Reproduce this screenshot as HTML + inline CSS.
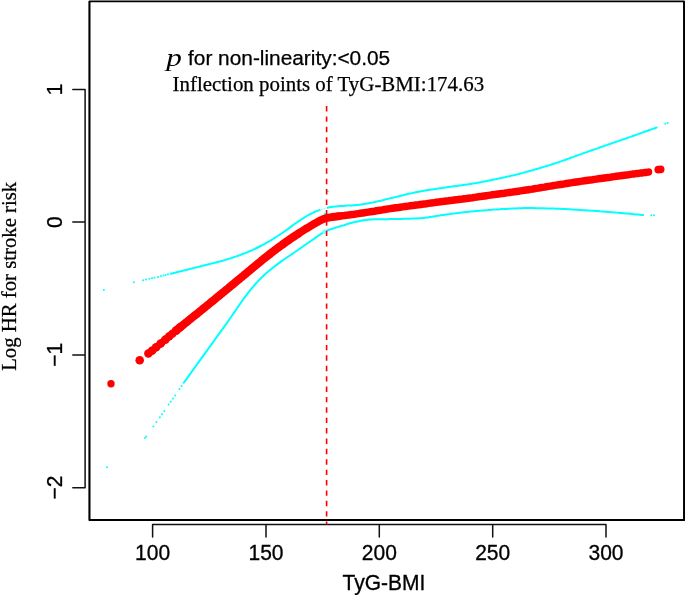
<!DOCTYPE html>
<html><head><meta charset="utf-8"><title>Chart</title>
<style>html,body{margin:0;padding:0;background:#fff;}body{width:685px;height:595px;overflow:hidden;position:relative;font-family:"Liberation Sans",sans-serif;}</style>
</head><body>
<svg width="685" height="595" viewBox="0 0 685 595" style="position:absolute;left:0;top:0;will-change:transform">
<rect x="0" y="0" width="685" height="595" fill="#fff"/>
<path d="M89.45,1.5V520H684.1V1.5" fill="none" stroke="#000" stroke-width="2.1" stroke-linejoin="round"/>
<path d="M89.45,1.4H684.1" fill="none" stroke="#000" stroke-width="1.75" stroke-linecap="round"/>
<path d="M72.8,89.4H85.1V487.7H72.8M72.8,222.1H85.1M72.8,354.9H85.1" fill="none" stroke="#111" stroke-width="1.5" stroke-linecap="round" stroke-linejoin="round"/>
<path d="M152.6,536.9V524.6H606V536.9M266,524.6V536.9M379.3,524.6V536.9M492.7,524.6V536.9" fill="none" stroke="#111" stroke-width="1.5" stroke-linecap="round" stroke-linejoin="round"/>
<path d="M170.7,273.8 L171.7,273.5 L172.7,273.3 L173.7,273.0 L174.7,272.8 L175.7,272.5 L176.7,272.3 L177.7,272.0 L178.7,271.8 L179.7,271.5 L180.7,271.3 L181.7,271.0 L182.7,270.8 L183.7,270.5 L184.7,270.3 L185.7,270.0 L186.7,269.8 L187.7,269.5 L188.7,269.2 L189.7,269.0 L190.7,268.7 L191.7,268.5 L192.7,268.2 L193.7,268.0 L194.7,267.7 L195.7,267.5 L196.7,267.2 L197.7,267.0 L198.7,266.7 L199.7,266.5 L200.7,266.2 L201.7,266.0 L202.7,265.7 L203.7,265.5 L204.7,265.2 L205.7,265.0 L206.7,264.8 L207.7,264.5 L208.7,264.3 L209.7,264.1 L210.7,263.8 L211.7,263.6 L212.7,263.3 L213.7,263.1 L214.7,262.8 L215.7,262.6 L216.7,262.3 L217.7,262.1 L218.7,261.8 L219.7,261.6 L220.7,261.3 L221.7,261.0 L222.7,260.7 L223.7,260.4 L224.7,260.1 L225.7,259.8 L226.7,259.5 L227.7,259.2 L228.7,258.9 L229.7,258.6 L230.7,258.3 L231.7,258.0 L232.7,257.6 L233.7,257.3 L234.7,256.9 L235.7,256.6 L236.7,256.2 L237.7,255.9 L238.7,255.5 L239.7,255.2 L240.7,254.8 L241.7,254.4 L242.7,254.0 L243.7,253.6 L244.7,253.3 L245.7,252.9 L246.7,252.5 L247.7,252.1 L248.7,251.6 L249.7,251.2 L250.7,250.8 L251.7,250.3 L252.7,249.9 L253.7,249.4 L254.7,249.0 L255.7,248.5 L256.7,248.0 L257.7,247.5 L258.7,247.0 L259.7,246.5 L260.7,246.0 L261.7,245.5 L262.7,244.9 L263.7,244.4 L264.7,243.9 L265.7,243.3 L266.7,242.7 L267.7,242.2 L268.7,241.6 L269.7,241.0 L270.7,240.4 L271.7,239.8 L272.7,239.2 L273.7,238.5 L274.7,237.9 L275.7,237.3 L276.7,236.6 L277.7,236.0 L278.7,235.3 L279.7,234.7 L280.7,234.0 L281.7,233.4 L282.7,232.7 L283.7,232.0 L284.7,231.3 L285.7,230.6 L286.7,229.9 L287.7,229.1 L288.7,228.4 L289.7,227.6 L290.7,226.9 L291.7,226.1 L292.7,225.4 L293.7,224.7 L294.7,223.9 L295.7,223.2 L296.7,222.5 L297.7,221.8 L298.7,221.2 L299.7,220.5 L300.7,219.9 L301.7,219.2 L302.7,218.6 L303.7,217.9 L304.7,217.3 L305.7,216.6 L306.7,216.0 L307.7,215.4 L308.7,214.9 L309.7,214.3 L310.7,213.8 L311.7,213.3 L312.7,212.8 L313.7,212.3 L314.7,211.9 L315.7,211.5 L316.7,211.1 L317.7,210.8 L318.7,210.4 L319.7,210.1" fill="none" stroke="#00ffff" stroke-width="2.0" stroke-linecap="round" stroke-linejoin="round"/>
<path d="M327.7,207.7 L328.7,207.5 L329.7,207.3 L330.7,207.1 L331.7,206.9 L332.7,206.8 L333.7,206.7 L334.7,206.6 L335.7,206.5 L336.7,206.4 L337.7,206.3 L338.7,206.2 L339.7,206.1 L340.7,206.1 L341.7,206.0 L342.7,205.9 L343.7,205.9 L344.7,205.8 L345.7,205.7 L346.7,205.6 L347.7,205.6 L348.7,205.5 L349.7,205.5 L350.7,205.4 L351.7,205.4 L352.7,205.3 L353.7,205.3 L354.7,205.2 L355.7,205.1 L356.7,205.0 L357.7,204.9 L358.7,204.8 L359.7,204.7 L360.7,204.5 L361.7,204.4 L362.7,204.2 L363.7,204.1 L364.7,203.9 L365.7,203.8 L366.7,203.6 L367.7,203.4 L368.7,203.2 L369.7,203.0 L370.7,202.8 L371.7,202.7 L372.7,202.5 L373.7,202.3 L374.7,202.1 L375.7,201.8 L376.7,201.6 L377.7,201.4 L378.7,201.1 L379.7,200.9 L380.7,200.7 L381.7,200.4 L382.7,200.2 L383.7,199.9 L384.7,199.6 L385.7,199.4 L386.7,199.1 L387.7,198.9 L388.7,198.6 L389.7,198.4 L390.7,198.1 L391.7,197.9 L392.7,197.7 L393.7,197.4 L394.7,197.2 L395.7,196.9 L396.7,196.7 L397.7,196.5 L398.7,196.2 L399.7,196.0 L400.7,195.7 L401.7,195.5 L402.7,195.3 L403.7,195.0 L404.7,194.8 L405.7,194.5 L406.7,194.3 L407.7,194.1 L408.7,193.8 L409.7,193.6 L410.7,193.4 L411.7,193.2 L412.7,192.9 L413.7,192.7 L414.7,192.5 L415.7,192.3 L416.7,192.1 L417.7,191.9 L418.7,191.7 L419.7,191.5 L420.7,191.3 L421.7,191.2 L422.7,191.0 L423.7,190.8 L424.7,190.6 L425.7,190.5 L426.7,190.3 L427.7,190.1 L428.7,190.0 L429.7,189.8 L430.7,189.7 L431.7,189.5 L432.7,189.4 L433.7,189.2 L434.7,189.1 L435.7,188.9 L436.7,188.8 L437.7,188.6 L438.7,188.5 L439.7,188.3 L440.7,188.2 L441.7,188.0 L442.7,187.9 L443.7,187.7 L444.7,187.6 L445.7,187.4 L446.7,187.3 L447.7,187.1 L448.7,187.0 L449.7,186.8 L450.7,186.7 L451.7,186.6 L452.7,186.4 L453.7,186.3 L454.7,186.2 L455.7,186.0 L456.7,185.9 L457.7,185.8 L458.7,185.6 L459.7,185.5 L460.7,185.4 L461.7,185.2 L462.7,185.1 L463.7,185.0 L464.7,184.8 L465.7,184.7 L466.7,184.5 L467.7,184.4 L468.7,184.2 L469.7,184.1 L470.7,183.9 L471.7,183.8 L472.7,183.6 L473.7,183.4 L474.7,183.2 L475.7,183.1 L476.7,182.9 L477.7,182.7 L478.7,182.5 L479.7,182.4 L480.7,182.2 L481.7,182.0 L482.7,181.8 L483.7,181.6 L484.7,181.4 L485.7,181.2 L486.7,181.0 L487.7,180.8 L488.7,180.6 L489.7,180.4 L490.7,180.2 L491.7,180.0 L492.7,179.8 L493.7,179.6 L494.7,179.4 L495.7,179.2 L496.7,179.0 L497.7,178.8 L498.7,178.6 L499.7,178.4 L500.7,178.1 L501.7,177.9 L502.7,177.7 L503.7,177.5 L504.7,177.3 L505.7,177.0 L506.7,176.8 L507.7,176.6 L508.7,176.4 L509.7,176.1 L510.7,175.9 L511.7,175.6 L512.7,175.4 L513.7,175.2 L514.7,174.9 L515.7,174.7 L516.7,174.4 L517.7,174.2 L518.7,173.9 L519.7,173.7 L520.7,173.4 L521.7,173.2 L522.7,172.9 L523.7,172.6 L524.7,172.4 L525.7,172.1 L526.7,171.8 L527.7,171.6 L528.7,171.3 L529.7,171.0 L530.7,170.7 L531.7,170.4 L532.7,170.2 L533.7,169.9 L534.7,169.6 L535.7,169.3 L536.7,169.0 L537.7,168.7 L538.7,168.4 L539.7,168.1 L540.7,167.8 L541.7,167.5 L542.7,167.2 L543.7,166.9 L544.7,166.6 L545.7,166.3 L546.7,166.0 L547.7,165.7 L548.7,165.4 L549.7,165.1 L550.7,164.8 L551.7,164.4 L552.7,164.1 L553.7,163.8 L554.7,163.5 L555.7,163.1 L556.7,162.8 L557.7,162.5 L558.7,162.1 L559.7,161.8 L560.7,161.4 L561.7,161.1 L562.7,160.7 L563.7,160.4 L564.7,160.0 L565.7,159.7 L566.7,159.3 L567.7,158.9 L568.7,158.6 L569.7,158.2 L570.7,157.8 L571.7,157.5 L572.7,157.1 L573.7,156.7 L574.7,156.4 L575.7,156.0 L576.7,155.6 L577.7,155.3 L578.7,154.9 L579.7,154.6 L580.7,154.2 L581.7,153.9 L582.7,153.5 L583.7,153.1 L584.7,152.8 L585.7,152.4 L586.7,152.1 L587.7,151.7 L588.7,151.4 L589.7,151.0 L590.7,150.7 L591.7,150.3 L592.7,150.0 L593.7,149.6 L594.7,149.3 L595.7,148.9 L596.7,148.6 L597.7,148.2 L598.7,147.9 L599.7,147.5 L600.7,147.2 L601.7,146.8 L602.7,146.5 L603.7,146.1 L604.7,145.8 L605.7,145.4 L606.7,145.1 L607.7,144.7 L608.7,144.4 L609.7,144.0 L610.7,143.7 L611.7,143.3 L612.7,143.0 L613.7,142.6 L614.7,142.3 L615.7,141.9 L616.7,141.6 L617.7,141.2 L618.7,140.9 L619.7,140.5 L620.7,140.2 L621.7,139.9 L622.7,139.5 L623.7,139.2 L624.7,138.8 L625.7,138.5 L626.7,138.1 L627.7,137.8 L628.7,137.4 L629.7,137.1 L630.7,136.7 L631.7,136.4 L632.7,136.0 L633.7,135.7 L634.7,135.3 L635.7,135.0 L636.7,134.6 L637.7,134.2 L638.7,133.9 L639.7,133.5 L640.7,133.2 L641.7,132.8 L642.7,132.5 L643.7,132.1 L644.7,131.8 L645.7,131.4 L646.7,131.0 L647.7,130.7 L648.7,130.3 L649.7,130.0 L650.7,129.6 L651.7,129.3 L652.7,128.9 L653.7,128.5 L654.7,128.2 L655.7,127.8 L656.6,127.5" fill="none" stroke="#00ffff" stroke-width="2.0" stroke-linecap="round" stroke-linejoin="round"/>
<path d="M320.7,209.8 L321.7,209.4 L322.7,209.1 L323.7,208.8 L324.7,208.5 L325.7,208.2 L326.7,208.0" fill="none" stroke="#b0ffff" stroke-width="1.2"/>
<path d="M183.9,382.6 L185.9,379.8 L187.9,377.1 L189.9,374.3 L191.9,371.5 L193.9,368.7 L195.9,366.0 L197.9,363.2 L199.9,360.4 L201.9,357.6 L203.9,354.9 L205.9,352.1 L207.9,349.3 L209.9,346.5 L211.9,343.8 L213.9,341.0 L215.9,338.2 L217.9,335.4 L219.9,332.7 L221.9,329.9 L223.9,327.1 L225.9,324.3 L227.9,321.5 L229.9,318.7 L231.9,315.8 L233.9,312.9 L235.9,310.0 L237.9,307.0 L239.9,304.1 L241.9,301.2 L243.9,298.4 L245.9,295.8 L247.9,293.2 L249.9,290.7 L251.9,288.2 L253.9,285.8 L255.9,283.5 L257.9,281.3 L259.9,279.2 L261.9,277.2 L263.9,275.3 L265.9,273.5 L267.9,271.8 L269.9,270.1 L271.9,268.5 L273.9,267.0 L275.9,265.4 L277.9,263.9 L279.9,262.4 L281.9,260.9 L283.9,259.5 L285.9,258.2 L287.9,256.8 L289.9,255.5 L291.9,254.1 L293.9,252.7 L295.9,251.3 L297.9,250.0 L299.9,248.6 L301.9,247.2 L303.9,245.8 L305.9,244.4 L307.9,243.0 L309.9,241.7 L311.9,240.3 L313.9,238.9 L315.9,237.4 L317.9,236.0 L319.9,234.6 L321.9,233.3 L323.9,232.1 L325.9,231.1 L327.9,230.3 L329.9,229.5 L331.9,228.8 L333.9,228.2 L335.9,227.6 L337.9,227.0 L339.9,226.4 L341.9,225.8 L343.9,225.2 L345.9,224.5 L347.9,223.9 L349.9,223.3 L351.9,222.7 L353.9,222.2 L355.9,221.8 L357.9,221.4 L359.9,221.0 L361.9,220.6 L363.9,220.2 L365.9,219.9 L367.9,219.7 L369.9,219.5 L371.9,219.4 L373.9,219.3 L375.9,219.3 L377.9,219.3 L379.9,219.3 L381.9,219.2 L383.9,219.2 L385.9,219.2 L387.9,219.2 L389.9,219.1 L391.9,219.1 L393.9,219.1 L395.9,219.0 L397.9,219.0 L399.9,218.9 L401.9,218.9 L403.9,218.8 L405.9,218.8 L407.9,218.7 L409.9,218.7 L411.9,218.6 L413.9,218.5 L415.9,218.4 L417.9,218.3 L419.9,218.2 L421.9,218.1 L423.9,217.9 L425.9,217.6 L427.9,217.4 L429.9,217.1 L431.9,216.8 L433.9,216.4 L435.9,216.1 L437.9,215.8 L439.9,215.5 L441.9,215.1 L443.9,214.9 L445.9,214.6 L447.9,214.3 L449.9,214.1 L451.9,213.8 L453.9,213.6 L455.9,213.3 L457.9,213.0 L459.9,212.8 L461.9,212.5 L463.9,212.3 L465.9,212.1 L467.9,211.9 L469.9,211.6 L471.9,211.5 L473.9,211.3 L475.9,211.1 L477.9,210.9 L479.9,210.7 L481.9,210.5 L483.9,210.4 L485.9,210.2 L487.9,210.1 L489.9,209.9 L491.9,209.8 L493.9,209.6 L495.9,209.5 L497.9,209.4 L499.9,209.3 L501.9,209.1 L503.9,209.0 L505.9,208.9 L507.9,208.8 L509.9,208.7 L511.9,208.6 L513.9,208.5 L515.9,208.4 L517.9,208.3 L519.9,208.2 L521.9,208.2 L523.9,208.1 L525.9,208.1 L527.9,208.1 L529.9,208.1 L531.9,208.1 L533.9,208.1 L535.9,208.2 L537.9,208.2 L539.9,208.2 L541.9,208.3 L543.9,208.3 L545.9,208.4 L547.9,208.4 L549.9,208.5 L551.9,208.5 L553.9,208.6 L555.9,208.7 L557.9,208.7 L559.9,208.8 L561.9,208.9 L563.9,209.0 L565.9,209.1 L567.9,209.2 L569.9,209.3 L571.9,209.4 L573.9,209.6 L575.9,209.7 L577.9,209.8 L579.9,209.9 L581.9,210.1 L583.9,210.2 L585.9,210.3 L587.9,210.4 L589.9,210.6 L591.9,210.7 L593.9,210.8 L595.9,211.0 L597.9,211.1 L599.9,211.3 L601.9,211.4 L603.9,211.6 L605.9,211.7 L607.9,211.9 L609.9,212.1 L611.9,212.2 L613.9,212.4 L615.9,212.6 L617.9,212.7 L619.9,212.9 L621.9,213.1 L623.9,213.3 L625.9,213.5 L627.9,213.6 L629.9,213.8 L631.9,214.0 L633.9,214.2 L635.9,214.4 L637.9,214.6 L639.9,214.8 L641.9,215.0 L643.1,215.1" fill="none" stroke="#00ffff" stroke-width="2.0" stroke-linecap="round" stroke-linejoin="round"/>
<circle cx="103.9" cy="289.9" r="1.0" fill="#00ffff"/>
<circle cx="133.9" cy="282.3" r="1.0" fill="#00ffff"/>
<circle cx="143.1" cy="280.2" r="1.0" fill="#00ffff"/>
<circle cx="146" cy="279.6" r="1.0" fill="#00ffff"/>
<circle cx="149.3" cy="278.8" r="1.0" fill="#00ffff"/>
<circle cx="152" cy="278.3" r="1.0" fill="#00ffff"/>
<circle cx="154.4" cy="277.8" r="1.0" fill="#00ffff"/>
<circle cx="158" cy="276.9" r="1.0" fill="#00ffff"/>
<circle cx="161" cy="276.1" r="1.0" fill="#00ffff"/>
<circle cx="163.5" cy="275.5" r="1.0" fill="#00ffff"/>
<circle cx="165.6" cy="274.9" r="1.0" fill="#00ffff"/>
<circle cx="168" cy="274.2" r="1.0" fill="#00ffff"/>
<circle cx="665.3" cy="123.8" r="1.0" fill="#00ffff"/>
<circle cx="667.7" cy="123" r="1.0" fill="#00ffff"/>
<circle cx="107.0" cy="467.3" r="1.0" fill="#00ffff"/>
<circle cx="145.0" cy="438.0" r="1.0" fill="#00ffff"/>
<circle cx="146.2" cy="436.4" r="1.0" fill="#00ffff"/>
<circle cx="153.3" cy="426.4" r="1.0" fill="#00ffff"/>
<circle cx="156.5" cy="422" r="1.0" fill="#00ffff"/>
<circle cx="159.9" cy="417.3" r="1.0" fill="#00ffff"/>
<circle cx="162" cy="414.3" r="1.0" fill="#00ffff"/>
<circle cx="164.3" cy="411.1" r="1.0" fill="#00ffff"/>
<circle cx="168.6" cy="404.6" r="1.0" fill="#00ffff"/>
<circle cx="170.7" cy="401.7" r="1.0" fill="#00ffff"/>
<circle cx="173" cy="398.5" r="1.0" fill="#00ffff"/>
<circle cx="175.2" cy="395.4" r="1.0" fill="#00ffff"/>
<circle cx="179.5" cy="388.9" r="1.0" fill="#00ffff"/>
<circle cx="181.5" cy="386" r="1.0" fill="#00ffff"/>
<circle cx="651.2" cy="215.3" r="1.0" fill="#00ffff"/>
<circle cx="653.9" cy="215.3" r="1.0" fill="#00ffff"/>
<circle cx="327.8" cy="191.6" r="1.0" fill="#00ffff"/>
<circle cx="324.4" cy="231.6" r="2.3" fill="#80ffff"/>
<circle cx="325.2" cy="214.2" r="1.6" fill="#40ffff"/>
<path d="M148.4,353.6 L150.4,352.0 L152.4,350.3 L154.4,348.7 L156.4,347.1 L158.4,345.4 L160.4,343.8 L162.4,342.1 L164.4,340.4 L166.4,338.7 L168.4,337.1 L170.4,335.4 L172.4,333.7" fill="none" stroke="#ff0000" stroke-width="7.0" stroke-linecap="round" stroke-linejoin="round"/>
<path d="M176.4,330.4 L178.4,328.7 L180.4,327.1 L182.4,325.5 L184.4,323.9 L186.4,322.3 L188.4,320.6 L190.4,319.0 L192.4,317.4 L194.4,315.8 L196.4,314.2 L198.4,312.6 L200.4,311.0 L202.4,309.3 L204.4,307.7 L206.4,306.1 L208.4,304.5 L210.4,302.8 L212.4,301.2 L214.4,299.6 L216.4,297.9 L218.4,296.3 L220.4,294.6 L222.4,293.0 L224.4,291.4 L226.4,289.7 L228.4,288.1 L230.4,286.4 L232.4,284.8 L234.4,283.1 L236.4,281.4 L238.4,279.8 L240.4,278.1 L242.4,276.5 L244.4,274.8 L246.4,273.2 L248.4,271.5 L250.4,269.9 L252.4,268.2 L254.4,266.5 L256.4,264.9 L258.4,263.2 L260.4,261.6 L262.4,259.9 L264.4,258.3 L266.4,256.7 L268.4,255.1 L270.4,253.6 L272.4,252.0 L274.4,250.5 L276.4,249.0 L278.4,247.5 L280.4,246.0 L282.4,244.6 L284.4,243.1 L286.4,241.7 L288.4,240.3 L290.4,238.9 L292.4,237.5 L294.4,236.2 L296.4,234.9 L298.4,233.6" fill="none" stroke="#ff0000" stroke-width="8.2" stroke-linecap="round" stroke-linejoin="round"/>
<path d="M298.4,233.6 L300.4,232.3 L302.4,231.0 L304.4,229.7 L306.4,228.5 L308.4,227.3 L310.4,226.1 L312.4,224.9 L314.4,223.7 L316.4,222.6 L318.4,221.5 L320.4,220.4 L322.4,219.5 L324.4,218.7 L326.4,218.1 L328.4,217.7 L330.4,217.3 L332.4,217.0 L334.4,216.8 L336.4,216.5 L338.4,216.3" fill="none" stroke="#ff0000" stroke-width="7.9" stroke-linecap="round" stroke-linejoin="round"/>
<path d="M338.4,216.3 L340.4,216.0 L342.4,215.7 L344.4,215.5 L346.4,215.2 L348.4,215.0 L350.4,214.7 L352.4,214.4 L354.4,214.2 L356.4,213.9 L358.4,213.6 L360.4,213.3 L362.4,213.1 L364.4,212.7 L366.4,212.4 L368.4,212.1 L370.4,211.8 L372.4,211.5 L374.4,211.2 L376.4,210.8 L378.4,210.5 L380.4,210.2 L382.4,209.9 L384.4,209.5 L386.4,209.2 L388.4,208.9 L390.4,208.6 L392.4,208.3 L394.4,208.0 L396.4,207.7 L398.4,207.5 L400.4,207.2 L402.4,206.9 L404.4,206.6 L406.4,206.4 L408.4,206.1 L410.4,205.8 L412.4,205.6 L414.4,205.3 L416.4,205.0 L418.4,204.8 L420.4,204.5 L422.4,204.2 L424.4,203.9 L426.4,203.7 L428.4,203.4 L430.4,203.1 L432.4,202.9 L434.4,202.6 L436.4,202.3 L438.4,202.1 L440.4,201.8 L442.4,201.6 L444.4,201.3 L446.4,201.0 L448.4,200.8 L450.4,200.5 L452.4,200.3 L454.4,200.0 L456.4,199.7 L458.4,199.5 L460.4,199.2 L462.4,199.0 L464.4,198.7 L466.4,198.5 L468.4,198.2 L470.4,197.9 L472.4,197.7 L474.4,197.4 L476.4,197.1 L478.4,196.8 L480.4,196.6 L482.4,196.3 L484.4,196.0 L486.4,195.7 L488.4,195.4 L490.4,195.1 L492.4,194.8 L494.4,194.6 L496.4,194.3 L498.4,194.0 L500.4,193.7 L502.4,193.4 L504.4,193.2 L506.4,192.9 L508.4,192.6 L510.4,192.4 L512.4,192.1 L514.4,191.8 L516.4,191.5 L518.4,191.2 L520.4,190.9 L522.4,190.6 L524.4,190.3 L526.4,190.0 L528.4,189.7 L530.4,189.4 L532.4,189.1 L534.4,188.7 L536.4,188.4 L538.4,188.1 L540.4,187.7 L542.4,187.4 L544.4,187.1 L546.4,186.7 L548.4,186.4 L550.4,186.1 L552.4,185.8 L554.4,185.4 L556.4,185.1 L558.4,184.8 L560.4,184.5 L562.4,184.2 L564.4,183.9 L566.4,183.5 L568.4,183.2 L570.4,182.9 L572.4,182.6 L574.4,182.3 L576.4,182.0 L578.4,181.7 L580.4,181.4 L582.4,181.1 L584.4,180.8 L586.4,180.5 L588.4,180.2 L590.4,179.9 L592.4,179.7 L594.4,179.4 L596.4,179.1 L598.4,178.8 L600.4,178.6 L602.4,178.3 L604.4,178.0 L606.4,177.7 L608.4,177.4 L610.4,177.2 L612.4,176.9 L614.4,176.6 L616.4,176.3 L618.4,176.1 L620.4,175.8 L622.4,175.5 L624.4,175.2 L626.4,174.9 L628.4,174.7 L630.4,174.4 L632.4,174.1 L634.4,173.9 L636.4,173.6 L638.4,173.4 L640.4,173.1 L642.4,172.9 L644.4,172.6 L646.4,172.4 L648.4,172.1 L648.5,172.1" fill="none" stroke="#ff0000" stroke-width="7.5" stroke-linecap="round" stroke-linejoin="round"/>
<circle cx="148.4" cy="353.6" r="4.25" fill="#ff0000"/>
<circle cx="152.0" cy="350.7" r="4.31" fill="#ff0000"/>
<circle cx="156.1" cy="347.3" r="4.27" fill="#ff0000"/>
<circle cx="160.7" cy="343.5" r="4.32" fill="#ff0000"/>
<circle cx="165.3" cy="339.7" r="4.33" fill="#ff0000"/>
<circle cx="169.3" cy="336.3" r="4.21" fill="#ff0000"/>
<circle cx="172.5" cy="333.6" r="4.20" fill="#ff0000"/>
<circle cx="176.1" cy="330.6" r="4.37" fill="#ff0000"/>
<circle cx="180.1" cy="327.3" r="4.25" fill="#ff0000"/>
<circle cx="111.0" cy="383.7" r="3.7" fill="#ff0000"/>
<circle cx="139.7" cy="360.3" r="4.3" fill="#ff0000"/>
<circle cx="658.3" cy="169.6" r="3.9" fill="#ff0000"/>
<circle cx="660.6" cy="169.3" r="3.9" fill="#ff0000"/>
<path d="M326.6,106V524.4" fill="none" stroke="#ff0000" stroke-width="1.6" stroke-dasharray="5.4 4.99"/>
<g font-family="Liberation Sans, sans-serif" font-size="21" fill="#000" stroke="#000" stroke-width="0.3">
<text transform="translate(152.6,559.5) scale(1,1.05)" text-anchor="middle">100</text>
<text transform="translate(266,559.5) scale(1,1.05)" text-anchor="middle">150</text>
<text transform="translate(379.3,559.5) scale(1,1.05)" text-anchor="middle">200</text>
<text transform="translate(492.7,559.5) scale(1,1.05)" text-anchor="middle">250</text>
<text transform="translate(606,559.5) scale(1,1.05)" text-anchor="middle">300</text>
<text transform="translate(384,590.1) scale(1,1.04)" text-anchor="middle">TyG-BMI</text>
<text transform="translate(62.2,89.4) rotate(-90) scale(1,1.05)" text-anchor="middle">1</text>
<text transform="translate(62.2,222.1) rotate(-90) scale(1,1.05)" text-anchor="middle">0</text>
<text transform="translate(62.2,354.9) rotate(-90) scale(1,1.05)" text-anchor="middle">−1</text>
<text transform="translate(62.2,487.6) rotate(-90) scale(1,1.05)" text-anchor="middle">−2</text>
</g>
<text transform="translate(15.6,276.3) rotate(-90)" text-anchor="middle" font-family="Liberation Serif, serif" font-size="20.75" fill="#000" stroke="#000" stroke-width="0.25">Log HR for stroke risk</text>
<text transform="translate(166.2,65.9) scale(1.2,1)" x="0" y="0" font-family="Liberation Serif, serif" font-style="italic" font-size="26" fill="#000">p</text>
<text x="188.0" y="65.2" font-family="Liberation Sans, sans-serif" font-size="20.85" fill="#000" stroke="#000" stroke-width="0.25">for non-linearity:&lt;0.05</text>
<text x="172.6" y="90.7" font-family="Liberation Serif, serif" font-size="20.9" fill="#000" stroke="#000" stroke-width="0.25">Inflection points of TyG-BMI:174.63</text>
</svg>
</body></html>
